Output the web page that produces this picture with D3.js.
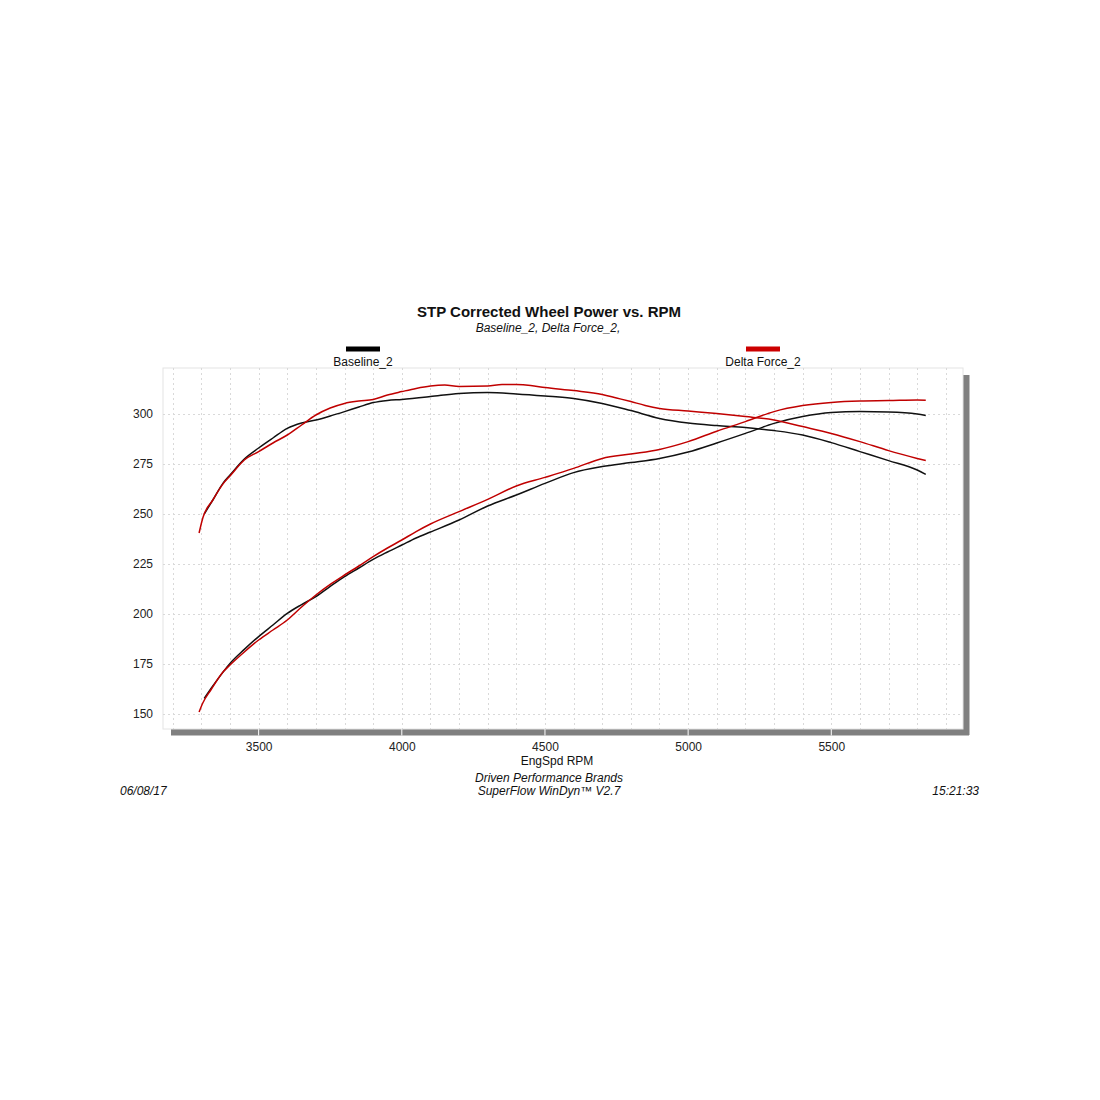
<!DOCTYPE html>
<html><head><meta charset="utf-8">
<script src="https://cdn.jsdelivr.net/npm/d3@7/dist/d3.min.js"></script>
<style>body{margin:0;background:#fff;} svg{display:block;font-family:"Liberation Sans",Arial,sans-serif;}</style>
</head><body>
<script>
// ---- data ----
const baseTqRpm = [3310,3340,3377,3400,3450,3500,3550,3600,3650,3700,3750,3800,3850,3900,3950,4000,4100,4200,4300,4400,4500,4600,4700,4800,4900,5000,5100,5200,5300,5400,5500,5600,5700,5800,5830];
const baseTq    = [250,257,265.7,269.5,277.5,283,288,292.8,295.5,297,299,301.2,303.5,305.7,306.8,307.3,308.7,310.3,310.7,310,309,307.8,305.3,301.7,297.8,295.5,294.2,293.2,291.7,289.5,285.7,281.2,276.7,272,269.8];
const deltaTqRpm = [3292,3305,3340,3377,3400,3450,3500,3550,3600,3650,3700,3750,3800,3850,3900,3950,4000,4050,4100,4150,4200,4300,4350,4400,4450,4500,4600,4700,4750,4800,4850,4900,5000,5100,5200,5300,5400,5500,5600,5700,5800,5830];
const deltaTq    = [240.5,248,257,265.3,269,277,281.2,285.5,289.5,294.5,299.5,303,305.3,306.5,307.3,309.5,311.2,312.8,314,314.5,313.8,314,314.8,314.7,314.2,313.2,311.7,309.8,308,306.2,304.3,302.8,301.5,300.2,298.7,297,293.7,290.3,286.2,281.7,277.8,276.7];
const baseHpRpm = [3310,3340,3377,3400,3450,3500,3550,3600,3650,3700,3750,3800,3850,3900,3950,4000,4050,4100,4200,4300,4400,4500,4600,4700,4800,4900,5000,5100,5200,5300,5400,5500,5600,5700,5800,5830];
const baseHp    = [157.8,164,171.2,175.3,182.3,188.7,194.5,200.3,204.7,208.7,213.8,218.7,223,227.3,231,234.5,238,241,247,254,259.5,265.3,270.7,273.7,275.7,277.8,281,285.5,290.3,295.3,298.7,300.7,301.2,301,300,299.3];
const deltaHpRpm = [3292,3305,3333,3377,3400,3450,3500,3550,3600,3650,3700,3750,3800,3850,3900,3950,4000,4050,4100,4200,4300,4400,4500,4600,4700,4800,4900,5000,5100,5200,5300,5400,5500,5600,5700,5800,5830];
const deltaHp    = [151,155.5,162,171.2,174.5,181,187,192,197,203.5,209.5,214.8,219.5,224,228.7,233,237,241.2,245,251.2,257.3,264,268.3,272.8,277.8,280,282.3,286.2,291.4,296.2,301.2,304.2,305.8,306.5,306.7,307,306.9];
const xTicks = [3500,4000,4500,5000,5500];
const yTicks = [150,175,200,225,250,275,300];
const legendNames = ["Baseline_2","Delta Force_2"];
const seriesColors = ["#111111","#c00000"];

const W=1100,H=1100;
const L=163,R=963,T=368,B=729;
const svg=d3.select("body").append("svg").attr("width",W).attr("height",H);
const x=d3.scaleLinear().domain([3166,5960]).range([L,R]);
const y=d3.scaleLinear().domain([142.5,323]).range([B,T]);

// shadow
svg.append("rect").attr("x",L+8).attr("y",B).attr("width",R-L-2).attr("height",6.5).attr("fill","#808080");
svg.append("rect").attr("x",R).attr("y",T+7).attr("width",6.5).attr("height",B-T-1).attr("fill","#808080");
svg.selectAll(".bt").data(xTicks).join("line").attr("x1",d=>x(d)).attr("x2",d=>x(d)).attr("y1",B).attr("y2",B+6.5).attr("stroke","#fff").attr("stroke-width",1);
// frame
svg.append("rect").attr("x",L).attr("y",T).attr("width",R-L).attr("height",B-T).attr("fill","#fff").attr("stroke","#e4e4e4").attr("stroke-width",1);

// grid
const vg=d3.range(3200,5960,100);
svg.append("g").selectAll("line").data(vg).join("line")
  .attr("x1",d=>Math.round(x(d))+0.5).attr("x2",d=>Math.round(x(d))+0.5).attr("y1",T).attr("y2",B)
  .attr("stroke","#d9d9d9").attr("stroke-dasharray","2,3");
svg.append("g").selectAll("line").data(yTicks).join("line")
  .attr("y1",d=>Math.round(y(d))+0.5).attr("y2",d=>Math.round(y(d))+0.5).attr("x1",L).attr("x2",R)
  .attr("stroke","#d9d9d9").attr("stroke-dasharray","2,3");

// axes labels
const yAxis=d3.axisLeft(y).tickValues(yTicks).tickSize(0).tickPadding(10);
const gy=svg.append("g").attr("transform",`translate(${L},0)`).call(yAxis);
gy.select(".domain").remove();
gy.selectAll("text").attr("font-size",12).attr("fill","#222").attr("font-family","Liberation Sans, Arial, sans-serif");
const xAxis=d3.axisBottom(x).tickValues(xTicks).tickSize(0).tickPadding(13).tickFormat(d3.format("d"));
const gx=svg.append("g").attr("transform",`translate(0,${B})`).call(xAxis);
gx.select(".domain").remove();
gx.selectAll("text").attr("font-size",12).attr("fill","#222").attr("font-family","Liberation Sans, Arial, sans-serif");

// lines
const line=d3.line().x(d=>x(d[0])).y(d=>y(d[1])).curve(d3.curveMonotoneX);
const zip=(a,b)=>a.map((v,i)=>[v,b[i]]);
const series=[
  {d:zip(baseTqRpm,baseTq),c:seriesColors[0]},
  {d:zip(baseHpRpm,baseHp),c:seriesColors[0]},
  {d:zip(deltaTqRpm,deltaTq),c:seriesColors[1]},
  {d:zip(deltaHpRpm,deltaHp),c:seriesColors[1]}
];
svg.append("g").selectAll("path").data(series).join("path")
  .attr("d",s=>line(s.d)).attr("fill","none").attr("stroke",s=>s.c).attr("stroke-width",1.5).attr("stroke-linejoin","round");

// titles
const t=(txt,xx,yy,opt={})=>svg.append("text").attr("x",xx).attr("y",yy).attr("text-anchor",opt.anchor||"middle")
  .attr("font-size",opt.size||12).attr("font-weight",opt.bold?"bold":"normal").attr("font-style",opt.italic?"italic":"normal")
  .attr("fill","#111").text(txt);
t("STP Corrected Wheel Power vs. RPM",549,317,{size:15,bold:true});
t("Baseline_2, Delta Force_2,",548,332,{italic:true,size:12});
// legend
const lx=[363,763];
legendNames.forEach((n,i)=>{
  svg.append("rect").attr("x",lx[i]-17).attr("y",346.5).attr("width",34).attr("height",5).attr("fill",i?"#cc0000":"#000");
  t(n,lx[i],366,{size:12});
});
t("EngSpd  RPM",557,765,{size:12});
t("Driven Performance Brands",549,782,{italic:true,size:12});
t("SuperFlow WinDyn™ V2.7",549,795,{italic:true,size:12});
t("06/08/17",120,795,{italic:true,size:12,anchor:"start"});
t("15:21:33",979,795,{italic:true,size:12,anchor:"end"});
</script>
</body></html>
